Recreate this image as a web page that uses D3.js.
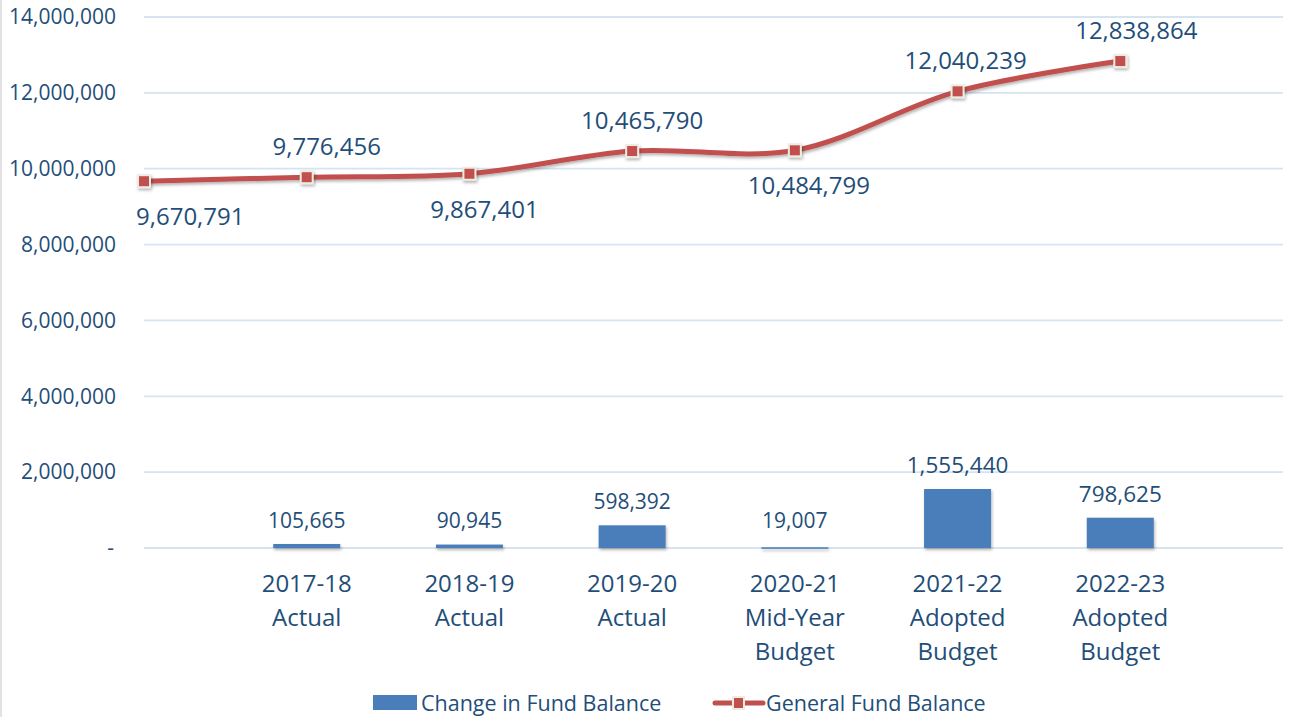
<!DOCTYPE html>
<html>
<head>
<meta charset="utf-8">
<script src="https://cdn.jsdelivr.net/npm/d3@7"></script>
<style>
  body { margin: 0; background: #fff; }
  svg { display: block; }
</style>
</head>
<body>
<svg id="chart"></svg>
<script>
// categories (first slot has no label, only the line starts there)
var categories = [
  [],
  ["2017-18", "Actual"],
  ["2018-19", "Actual"],
  ["2019-20", "Actual"],
  ["2020-21", "Mid-Year", "Budget"],
  ["2021-22", "Adopted", "Budget"],
  ["2022-23", "Adopted", "Budget"]
];
var changeInFund = [null, 105665, 90945, 598392, 19007, 1555440, 798625];
var generalFund = [9670791, 9776456, 9867401, 10465790, 10484799, 12040239, 12838864];
// where excel put the line labels
var lineLabelSide = ["below", "above", "below", "above", "below", "above", "above"];
var yTicks = [0, 2000000, 4000000, 6000000, 8000000, 10000000, 12000000, 14000000];
var seriesNames = ["Change in Fund Balance", "General Fund Balance"];

var W = 1291, H = 717;
var margin = {left: 144, right: 8, top: 17, bottom: 169};
var textColor = "#1f4e79";
var barColor = "#4a7ebb";
var lineColor = "#c0504d";
var font = "'Open Sans', sans-serif";

var svg = d3.select("#chart").attr("width", W).attr("height", H);

var defs = svg.append("defs");
var f = defs.append("filter").attr("id", "shadow")
  .attr("x", "-20%").attr("y", "-20%").attr("width", "140%").attr("height", "160%");
f.append("feDropShadow").attr("dx", 1).attr("dy", 2).attr("stdDeviation", 1.5)
  .attr("flood-color", "#000").attr("flood-opacity", 0.3);

// left border line
svg.append("line").attr("x1", 1).attr("x2", 1).attr("y1", 0).attr("y2", H)
  .attr("stroke", "#d9d9d9").attr("stroke-width", 1.5);

var x = d3.scaleLinear().domain([0, 7]).range([margin.left, W - margin.right]);
var y = d3.scaleLinear().domain([0, 14000000]).range([H - margin.bottom, margin.top]);

// gridlines
svg.append("g").selectAll("line").data(yTicks).enter().append("line")
  .attr("x1", margin.left).attr("x2", W - margin.right)
  .attr("y1", d => y(d)).attr("y2", d => y(d))
  .attr("stroke", "#d6e3f1").attr("stroke-width", 1.8);

// y tick labels
var fmt = d3.format(",");
svg.append("g").selectAll("text").data(yTicks).enter().append("text")
  .attr("x", d => d === 0 ? 114 : 116)
  .attr("y", d => y(d))
  .attr("dy", "0.35em")
  .attr("text-anchor", "end")
  .attr("font-family", font).attr("font-size", "21px")
  .attr("fill", textColor)
  .text(d => d === 0 ? "-" : fmt(d));

// bars
var barW = 67;
var barData = changeInFund.map((v, i) => ({v: v, i: i})).filter(d => d.v !== null);
svg.append("g").attr("filter", "url(#shadow)").selectAll("rect").data(barData).enter().append("rect")
  .attr("x", d => x(d.i) - barW / 2)
  .attr("y", d => y(d.v))
  .attr("width", barW)
  .attr("height", d => Math.max(1.5, y(0) - y(d.v)))
  .attr("fill", barColor);

// the two budget labels came out bigger in the original
svg.append("g").selectAll("text").data(barData).enter().append("text")
  .attr("x", d => x(d.i))
  .attr("y", d => Math.min(y(d.v), y(0) - 4) - 16)
  .attr("text-anchor", "middle")
  .attr("font-family", font).attr("font-size", d => d.i >= 5 ? "22.5px" : "21px")
  .attr("fill", textColor)
  .text(d => fmt(d.v));

// line
var line = d3.line()
  .x((d, i) => x(i))
  .y(d => y(d))
  .curve(d3.curveCatmullRom.alpha(0.5));

svg.append("path").datum(generalFund)
  .attr("d", line)
  .attr("fill", "none")
  .attr("stroke", lineColor)
  .attr("stroke-width", 5)
  .attr("stroke-linejoin", "round")
  .attr("filter", "url(#shadow)");

svg.append("g").attr("filter", "url(#shadow)").selectAll("rect").data(generalFund).enter().append("rect")
  .attr("x", (d, i) => x(i) - 6)
  .attr("y", d => y(d) - 6)
  .attr("width", 12).attr("height", 12)
  .attr("fill", lineColor)
  .attr("stroke", "#eeece1").attr("stroke-width", 2);

// labels sit a bit right of the points, like in excel
var labelDx = [0, 20, 15, 10, 14, 8, 16];
svg.append("g").selectAll("text").data(generalFund).enter().append("text")
  .attr("x", (d, i) => i === 0 ? x(i) - 8 : x(i) + labelDx[i])
  .attr("y", (d, i) => lineLabelSide[i] === "above" ? y(d) - 22 : y(d) + 44)
  .attr("text-anchor", (d, i) => i === 0 ? "start" : "middle")
  .attr("font-family", font).attr("font-size", "24px")
  .attr("fill", textColor)
  .text(d => fmt(d));

// x category labels
var xl = svg.append("g").selectAll("text").data(categories).enter().append("text")
  .attr("x", (d, i) => x(i))
  .attr("y", 592)
  .attr("text-anchor", "middle")
  .attr("font-family", font).attr("font-size", "24px")
  .attr("fill", textColor);
xl.selectAll("tspan").data(d => d).enter().append("tspan")
  .attr("x", function() { return d3.select(this.parentNode).attr("x"); })
  .attr("dy", (d, j) => j === 0 ? 0 : 34)
  .text(d => d);

// legend
var lg = svg.append("g").attr("font-family", font).attr("font-size", "21.5px").attr("fill", textColor);
lg.append("rect").attr("x", 373).attr("y", 695).attr("width", 44).attr("height", 15).attr("fill", barColor);
lg.append("text").attr("x", 421).attr("y", 703).attr("dy", "0.35em").text(seriesNames[0]);
lg.append("line").attr("x1", 715).attr("x2", 763).attr("y1", 703).attr("y2", 703)
  .attr("stroke", lineColor).attr("stroke-width", 5).attr("stroke-linecap", "round");
lg.append("rect").attr("x", 733).attr("y", 697).attr("width", 11).attr("height", 12)
  .attr("fill", lineColor).attr("stroke", "#eeece1").attr("stroke-width", 2);
lg.append("text").attr("x", 766).attr("y", 703).attr("dy", "0.35em").text(seriesNames[1]);
</script>
</body>
</html>
